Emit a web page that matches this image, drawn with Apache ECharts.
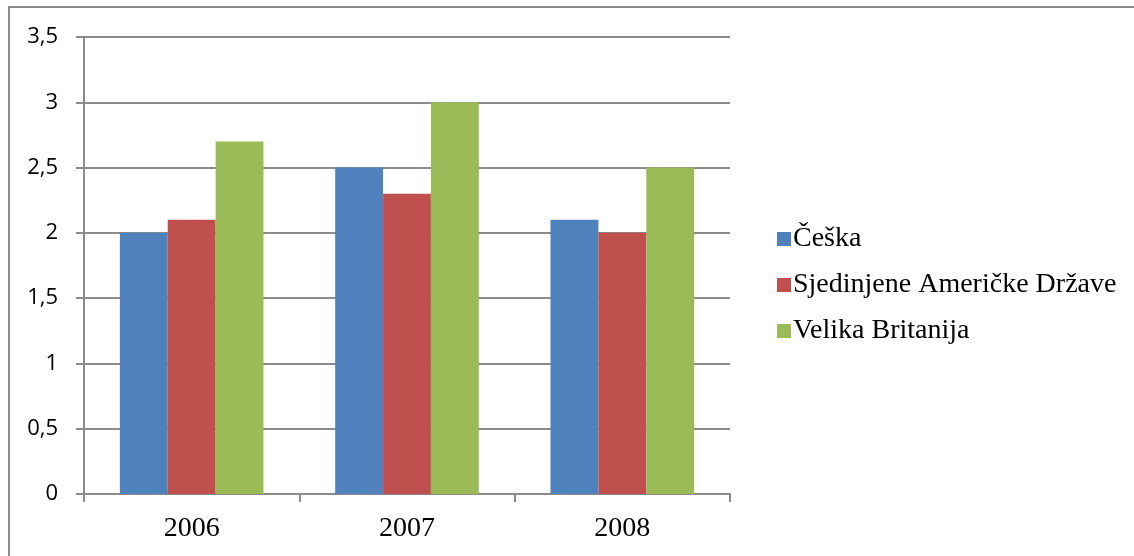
<!DOCTYPE html>
<html>
<head>
<meta charset="UTF-8">
<title>Chart</title>
<script src="https://cdn.jsdelivr.net/npm/echarts@6/dist/echarts.min.js"></script>
<style>
	html, body { margin: 0; padding: 0; background: #fff; }
	#main { width: 1134px; height: 556px; }
</style>
</head>
<body>
<div id="main"></div>
<script>
var years = ['2006', '2007', '2008'];
var seriesNames = ['Češka', 'Sjedinjene Američke Države', 'Velika Britanija'];
var ceska = [2, 2.5, 2.1];
var sad = [2.1, 2.3, 2.0];
var britanija = [2.7, 3, 2.5];
var colors = ['#4F81BD', '#C0504D', '#9BBB59'];

var serif = '"Liberation Serif", "Times New Roman", serif';

var chart = echarts.init(document.getElementById('main'));

var option = {
	animation: false,
	color: colors,
	// outer frame of the chart area
	graphic: [{
		type: 'rect',
		shape: { x: 9, y: 7, width: 1140, height: 560 },
		style: { fill: 'none', stroke: '#8c8c8c', lineWidth: 2 },
		silent: true
	}],
	grid: { left: 84, top: 37, right: 404, bottom: 62 },
	legend: {
		orient: 'vertical',
		left: 772,
		top: 220,
		itemWidth: 14,
		itemHeight: 14,
		itemGap: 18,
		icon: 'rect',
		data: seriesNames,
		textStyle: {
			fontFamily: serif,
			fontSize: 28,
			color: '#000',
			lineHeight: 28,
			padding: [0, 0, 0, -3]
		}
	},
	xAxis: {
		type: 'category',
		data: years,
		axisLine: { lineStyle: { color: '#8c8c8c', width: 2 } },
		axisTick: { show: true, length: 8, lineStyle: { color: '#8c8c8c', width: 2 } },
		axisLabel: {
			margin: 21,
			fontFamily: serif,
			fontSize: 28,
			color: '#000'
		}
	},
	yAxis: {
		type: 'value',
		min: 0,
		max: 3.5,
		interval: 0.5,
		axisLine: { show: true, lineStyle: { color: '#8c8c8c', width: 2 } },
		axisTick: { show: true, length: 8, lineStyle: { color: '#8c8c8c', width: 2 } },
		splitLine: { lineStyle: { color: '#8c8c8c', width: 2 } },
		axisLabel: {
			margin: 26,
			fontFamily: '"Open Sans", "Noto Sans", sans-serif',
			fontSize: 22,
			color: '#000',
			formatter: function (v) { return String(v).replace('.', ','); }
		}
	},
	series: [{
		name: seriesNames[0],
		type: 'bar',
		data: ceska,
		barGap: '0%',
		barCategoryGap: '33.3%'
	}, {
		name: seriesNames[1],
		type: 'bar',
		data: sad
	}, {
		name: seriesNames[2],
		type: 'bar',
		data: britanija
	}]
};

chart.setOption(option);
</script>
</body>
</html>
